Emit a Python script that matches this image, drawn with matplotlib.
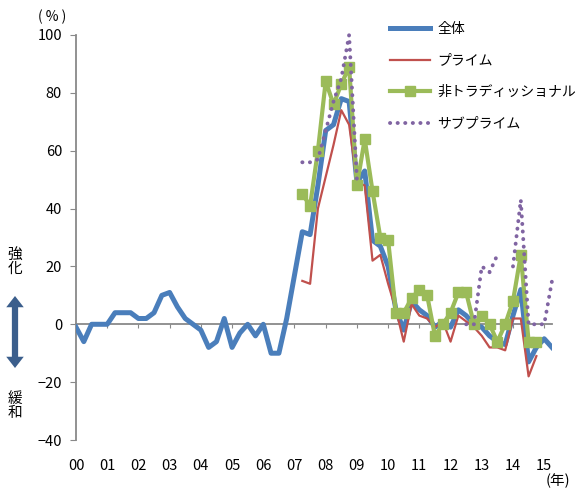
import numpy as np
import matplotlib
matplotlib.use("Agg")
import matplotlib.pyplot as plt
from matplotlib.patches import FancyArrowPatch
from matplotlib.lines import Line2D

plt.rcParams['font.family'] = ['Noto Sans CJK JP', 'DejaVu Sans']
plt.rcParams['font.size'] = 10

nan = np.nan
# quarterly, 2000Q1 .. 2015Q2
zentai = [-1, -6, 0, 0, 0, 4, 4, 4, 2, 2,
          4, 10, 11, 6, 2, 0, -2, -8, -6, 2,
          -8, -3, 0, -4, 0, -10, -10, 2, 17, 32,
          31, 48, 67, 69, 78, 77, 49, 53, 29, 27,
          20, 5, -2, 8, 5, 3, -1, 1, -1, 5,
          3, 0, -1, -4, -6, -7, 3, 12, -13, -8,
          -5, -8]
prime = [nan] * 29 + [15, 14, 40, 51, 62, 74, 69, 49, 48, 22,
                      24, 14, 5, -6, 7, 3, 2, -1, 1, -6,
                      3, 1, -1, -4, -8, -8, -9, 2, 2, -18,
                      -11, nan, nan]
nontrad = [nan] * 29 + [45, 41, 60, 84, 76, 83, 89, 48, 64, 46,
                        30, 29, 4, 4, 9, 12, 10, -4, 0, 4,
                        11, 11, 0, 3, 0, -6, 0, 8, 24, -6,
                        -6, nan, nan]
subprime = [nan] * 29 + [56, 56, 57, 67, 77, 85, 100, 50] + [nan] * 13 + \
           [0, 0, 20, 18, 24, nan, 20, 43, 0, 0, 0, 15]
year_labels = ['00', '01', '02', '03', '04', '05', '06', '07',
               '08', '09', '10', '11', '12', '13', '14', '15']

t = np.arange(len(zentai))
gray = '#898989'

fig = plt.figure(figsize=(5.79, 4.9), dpi=100)
ax = fig.add_axes([76 / 579, 1 - 440 / 490, (552 - 76) / 579, 405 / 490])

ax.plot(t, zentai, color='#4A7EBB', lw=3.6, zorder=3)
ax.plot(t, prime, color='#C0504D', lw=1.6, zorder=4)
ax.plot(t, nontrad, color='#9BBB59', lw=3.0, marker='s', markersize=6.5, zorder=5)
ax.plot(t, subprime, color='#8064A2', lw=2.8, linestyle=(0, (0.05, 1.9)),
        dash_capstyle='round', zorder=6, clip_on=False)

ax.set_xlim(0, 61)
ax.set_ylim(-40, 100)
for s in ['top', 'right']:
    ax.spines[s].set_visible(False)
ax.spines['left'].set_color(gray)
ax.spines['left'].set_linewidth(1.3)
ax.spines['bottom'].set_position(('data', 0))
ax.spines['bottom'].set_color(gray)
ax.spines['bottom'].set_linewidth(1.3)
ax.set_yticks(range(-40, 101, 20))
ax.set_xticks(range(0, 61, 4))
ax.tick_params(axis='y', direction='out', length=4, color=gray, pad=6, labelsize=10.5)
ax.tick_params(axis='x', direction='out', length=3, color=gray, labelbottom=False)

for i, lab in enumerate(year_labels):
    ax.text(i * 4, -0.065, lab, transform=ax.get_xaxis_transform(),
            ha='center', va='center', fontsize=10.5)

fig.text(52 / 579, 1 - 17 / 490, '( % )', ha='center', va='center', fontsize=10)
fig.text(558 / 579, 1 - 481 / 490, '(年)', ha='center', va='center', fontsize=10.5)
fig.text(15 / 579, 1 - 262 / 490, '強\n化', ha='center', va='center', fontsize=10.5, linespacing=1.0)
fig.text(15 / 579, 1 - 406 / 490, '緩\n和', ha='center', va='center', fontsize=10.5, linespacing=1.0)

# double-headed arrow between the labels
mid = (15 / 579, 1 - 332 / 490)
for end_y in (296, 368):
    fig.add_artist(FancyArrowPatch(mid, (15 / 579, 1 - end_y / 490), transform=fig.transFigure,
                                   arrowstyle='simple,head_length=0.45,head_width=0.7,tail_width=0.25',
                                   mutation_scale=18, lw=0, color='#3B5E8C',
                                   shrinkA=0, shrinkB=0))

handles = [
    Line2D([], [], color='#4A7EBB', lw=3.6),
    Line2D([], [], color='#C0504D', lw=1.6),
    Line2D([], [], color='#9BBB59', lw=3.0, marker='s', markersize=6.5),
    Line2D([], [], color='#8064A2', lw=2.8, linestyle=(0, (0.05, 1.9)), dash_capstyle='round'),
]
labels = ['全体', 'プライム', '非トラディッショナル', 'サブプライム']
fig.legend(handles, labels, loc='upper left', bbox_to_anchor=(390 / 579, 1 - 22 / 490),
           frameon=False, borderpad=0, borderaxespad=0, handlelength=2.9,
           handletextpad=0.5, labelspacing=1.26, fontsize=10)

fig.savefig('out.png', dpi=100)
